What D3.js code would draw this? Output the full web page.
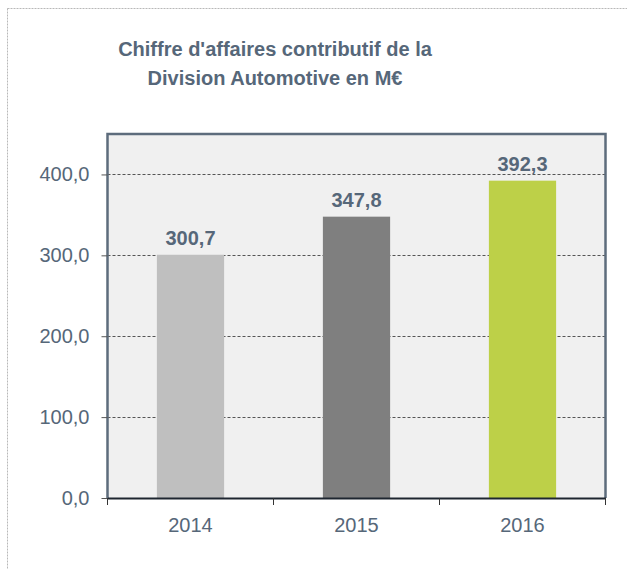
<html lang="fr">
<head>
<meta charset="utf-8">
<title>Chiffre d'affaires Automotive</title>
<script src="https://d3js.org/d3.v7.min.js"></script>
<style>
  body { margin: 0; background: #fff; }
  text { font-family: "Liberation Sans", Arial, sans-serif; }
</style>
</head>
<body>
<div id="chart"></div>
<script>
// données
const years = ["2014", "2015", "2016"];
const revenue = [300.7, 347.8, 392.3];
const barColors = ["#bfbfbf", "#7f7f7f", "#bdd048"];
const yTicks = [0, 100, 200, 300, 400];
const titleLines = ["Chiffre d'affaires contributif de la", "Division Automotive en M€"];

const width = 627, height = 569;
const margin = {top: 134, bottom: 71, left: 107.5, right: 21.5};
const textColor = "#566779";
const fmt = v => v.toFixed(1).replace(".", ",");

const svg = d3.select("#chart").append("svg").attr("width", width).attr("height", height);

// cadre pointillé extérieur
svg.append("rect").attr("x", 7.5).attr("y", 8.5).attr("width", 640).attr("height", 600)
    .attr("fill", "none").attr("stroke", "#b8b8b8").attr("stroke-dasharray", "2,1");

// titre
svg.append("text").attr("x", 275).attr("y", 56).attr("text-anchor", "middle")
    .attr("font-size", "20px").attr("font-weight", "bold").attr("fill", textColor)
    .selectAll("tspan").data(titleLines).join("tspan")
    .attr("x", 275).attr("dy", (d, i) => i ? 29 : 0).text(d => d);

const xScale = d3.scaleBand().domain(years).range([margin.left, width - margin.right]).padding(0);
const yScale = d3.scaleLinear().domain([0, 450]).range([height - margin.bottom, margin.top]);

// fond de la zone de tracé
svg.append("rect").attr("x", margin.left).attr("y", margin.top)
    .attr("width", width - margin.right - margin.left).attr("height", yScale(0) - margin.top)
    .attr("fill", "#f0f0f0");

// grille
svg.append("g").selectAll("line").data(yTicks.filter(d => d > 0)).join("line")
    .attr("x1", margin.left).attr("x2", width - margin.right)
    .attr("y1", d => Math.round(yScale(d)) + 0.5).attr("y2", d => Math.round(yScale(d)) + 0.5)
    .attr("stroke", "#555").attr("stroke-dasharray", "3,2").attr("stroke-width", 1);

// barres
const barW = xScale.bandwidth() * 0.405;
svg.append("g").selectAll("rect").data(revenue).join("rect")
    .attr("x", (d, i) => xScale(years[i]) + (xScale.bandwidth() - barW) / 2)
    .attr("width", barW)
    .attr("y", d => yScale(d)).attr("height", d => yScale(0) - yScale(d))
    .attr("fill", (d, i) => barColors[i]);

// étiquettes de valeur
svg.append("g").selectAll("text").data(revenue).join("text")
    .attr("x", (d, i) => xScale(years[i]) + xScale.bandwidth() / 2)
    .attr("y", d => yScale(d) - 10)
    .attr("text-anchor", "middle").attr("font-size", "20px").attr("font-weight", "bold")
    .attr("fill", textColor).text(fmt);

// bordure de la zone de tracé
svg.append("path")
    .attr("d", `M${margin.left},${yScale(0)}V${margin.top}H${width - margin.right}V${yScale(0)}`)
    .attr("fill", "none").attr("stroke", "#5d6c7c").attr("stroke-width", 2.5);

// axe Y
const yAxis = svg.append("g").attr("transform", `translate(${margin.left},0)`)
    .call(d3.axisLeft(yScale).tickValues(yTicks).tickSize(6).tickPadding(12).tickFormat(fmt));
yAxis.select(".domain").remove();
yAxis.selectAll(".tick line").attr("stroke", "#555");
yAxis.selectAll("text").attr("font-size", "20px").attr("fill", textColor)
    .attr("font-family", "Liberation Sans, Arial, sans-serif");

// axe X
const xAxis = svg.append("g").attr("transform", `translate(0,${yScale(0)})`)
    .call(d3.axisBottom(xScale).tickSize(0).tickPadding(20));
xAxis.select(".domain").attr("stroke", "#1e2630").attr("stroke-width", 2);
xAxis.selectAll("text").attr("font-size", "20px").attr("fill", textColor)
    .attr("font-family", "Liberation Sans, Arial, sans-serif");
// repères entre catégories
const bounds = years.map(y => xScale(y)).concat([width - margin.right]);
svg.append("g").selectAll("line").data(bounds).join("line")
    .attr("x1", d => d).attr("x2", d => d)
    .attr("y1", yScale(0)).attr("y2", yScale(0) + 7)
    .attr("stroke", "#333").attr("stroke-width", 1);
</script>
</body>
</html>
